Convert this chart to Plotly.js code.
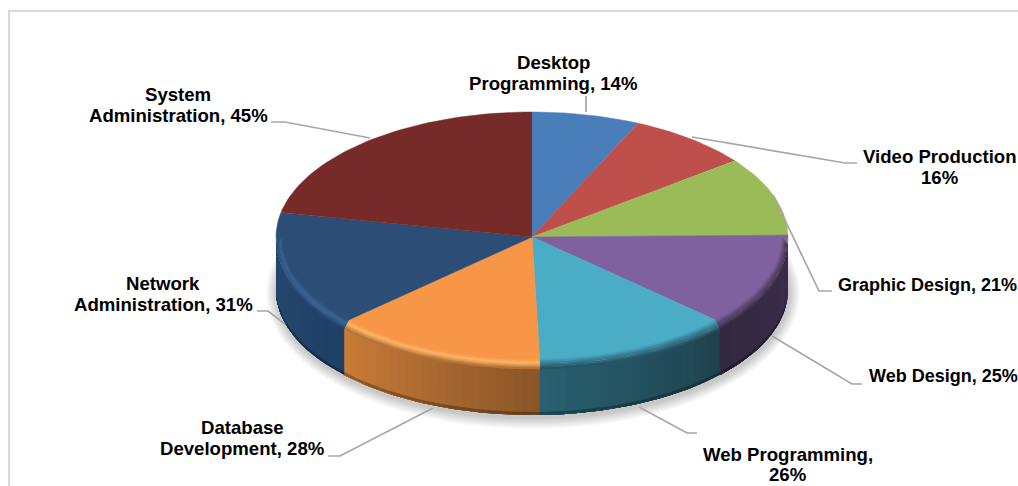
<!DOCTYPE html>
<html>
<head>
<meta charset="utf-8">
<script src="https://cdn.plot.ly/plotly-3.0.1.min.js"></script>
<style>html,body{margin:0;padding:0;background:#fff;overflow:hidden}</style>
</head>
<body>
<div id="chart" style="width:1018px;height:486px"></div>
<script>
// Skills reported by respondents, in clockwise order from twelve o'clock
const categories = ['Desktop Programming', 'Video Production', 'Graphic Design', 'Web Design',
                    'Web Programming', 'Database Development', 'Network Administration', 'System Administration'];
const percentages = [14, 16, 21, 25, 26, 28, 31, 45];
const topColors = ['#4A7EBB', '#BE4F4B', '#9BBB59', '#8061A0', '#4BACC6', '#F79646', '#2C4D75', '#772B29'];

// Wall shading per slice: colour at the clockwise start and end of the visible wall, and rim highlight
const wallStart = [null, null, null, '#3A2D4C', '#1E424E', '#8A5528', '#1F3F66', null];
const wallEnd   = [null, null, null, '#33283F', '#296070', '#C97C38', '#26486F', null];
const rimColors = [null, null, null, '#5A4670', '#377F94', '#FFB566', '#3A6496', null];

// Disc geometry in the page's pixel space
const cx = 532, cy = 237, rx = 256, ry = 125, wallDepth = 53, rimDepth = 7, rimInset = 0.025;

function point(deg, scale, depth) {
  const a = deg * Math.PI / 180;
  return [cx + rx * scale * Math.sin(a), cy - ry * scale * Math.cos(a) + depth];
}
function arc(from, to, scale, depth) {
  const n = Math.max(2, Math.ceil(Math.abs(to - from) / 1.5));
  const pts = [];
  for (let i = 0; i <= n; i++) pts.push(point(from + (to - from) * i / n, scale, depth));
  return pts;
}
function hexRgb(h) { return [1, 3, 5].map(i => parseInt(h.substr(i, 2), 16)); }
function mix(a, b, t) {
  const p = hexRgb(a), q = hexRgb(b);
  return 'rgb(' + p.map((v, i) => Math.round(v + (q[i] - v) * t)).join(',') + ')';
}
function toHex(c) {
  return '#' + c.match(/\d+/g).map(v => (+v).toString(16).padStart(2, '0')).join('');
}
function polygon(pts, color, extra) {
  return Object.assign({
    type: 'scatter', mode: 'lines', x: pts.map(p => p[0]), y: pts.map(p => p[1]),
    fill: 'toself', fillcolor: color, line: {color: color, width: 0},
    hoverinfo: 'skip', showlegend: false
  }, extra || {});
}

const total = percentages.reduce((s, v) => s + v, 0);
const bounds = [0];
percentages.forEach(v => bounds.push(bounds[bounds.length - 1] + v / total * 360));

const traces = [];

// Soft drop shadow under the disc
for (let k = 11; k >= 1; k--) {
  const pts = [];
  for (let d = 0; d <= 360; d += 3) {
    const a = d * Math.PI / 180;
    pts.push([cx + (rx + k) * Math.sin(a) + 1, cy + wallDepth + 3 - (ry + k) * Math.cos(a)]);
  }
  traces.push({type: 'scatter', mode: 'none', x: pts.map(p => p[0]), y: pts.map(p => p[1]),
    fill: 'toself', fillcolor: 'rgba(0,0,0,0.018)', hoverinfo: 'skip', showlegend: false});
}

// Outer wall of the front half; each strip runs on to the slice's far end and the next one
// paints over it, so the shading steps along the arc with no gaps between strips
percentages.forEach((v, i) => {
  if (!wallStart[i]) return;
  const from = Math.max(bounds[i], 90), to = Math.min(bounds[i + 1], 270);
  const steps = Math.ceil((to - from) / 2);
  for (let s = 0; s < steps; s++) {
    const a0 = from + (to - from) * s / steps;
    const top = arc(a0, to, 1, rimDepth - 2), bottom = arc(to, a0, 1, wallDepth);
    traces.push(polygon(top.concat(bottom), mix(wallStart[i], wallEnd[i], (s + 0.5) / steps)));
  }
});

// Darker lip along the bottom edge of the wall
traces.push(polygon(arc(90, 270, 1, wallDepth - 3).concat(arc(270, 90, 1, wallDepth)), 'rgba(0,0,0,0.28)'));

// Top faces, one wedge per category
percentages.forEach((v, i) => {
  const pts = [[cx, cy]].concat(arc(bounds[i], bounds[i + 1], 1, 0));
  traces.push(polygon(pts, topColors[i], {
    hoverinfo: 'text', text: categories[i] + ', ' + v + '%', hoveron: 'fills',
    line: {color: topColors[i], width: 0.5}
  }));
});

// Rounded rim between top face and wall; each band paints over the one before it
const rimBands = 7;
percentages.forEach((v, i) => {
  if (!rimColors[i]) return;
  const from = Math.max(bounds[i], 90), to = Math.min(bounds[i + 1], 270);
  const wallMid = toHex(mix(wallStart[i], wallEnd[i], 0.5));
  for (let b = 0; b < rimBands; b++) {
    const u0 = b / rimBands, u1 = (b + 1) / rimBands, u = (u0 + u1) / 2;
    const color = u < 0.4 ? mix(topColors[i], rimColors[i], u / 0.4)
                          : mix(rimColors[i], wallMid, (u - 0.4) / 0.6);
    const outer = arc(from, to, 1 - rimInset + rimInset * u1, rimDepth * u1 + 0.4);
    const inner = arc(to, from, 1 - rimInset + rimInset * u0, rimDepth * u0);
    traces.push(polygon(outer.concat(inner), color));
  }
});

// Leader lines, from the disc out to each label
const leaderX = [[271, 285, 370], [586, 586], [692, 845, 857], [773, 819, 832],
                 [772, 852, 862], [639, 687, 697], [433, 340, 328], [285, 268, 257]];
const leaderY = [[122, 122, 138], [96, 112], [137, 163, 163], [195, 291, 291],
                 [336, 384, 384], [407, 433, 433], [408, 456, 456], [324, 311, 311]];
leaderX.forEach((xs, i) => traces.push({
  type: 'scatter', mode: 'lines', x: xs, y: leaderY[i],
  line: {color: '#A6A6A6', width: 1.7}, hoverinfo: 'skip', showlegend: false
}));

// Data labels, one annotation per text line so the line spacing can be set exactly
const labelLines = [['Desktop', 'Programming, ' + percentages[0] + '%'],
  ['Video Production', percentages[1] + '%'],
  ['Graphic Design, ' + percentages[2] + '%'],
  ['Web Design, ' + percentages[3] + '%'],
  ['Web Programming,', percentages[4] + '%'],
  ['Database', 'Development, ' + percentages[5] + '%'],
  ['Network', 'Administration, ' + percentages[6] + '%'],
  ['System', 'Administration, ' + percentages[7] + '%']];
const labelX = [553, 940, 837, 868, 788, 242, 163, 178];
const labelY = [62, 156, 285, 376, 454, 427, 283, 94];
const labelGap = [21.5, 21.5, 0, 0, 20.5, 21.5, 21.5, 21.5];
const labelSize = [18.6, 18.6, 18, 18, 18.6, 18.6, 18.6, 18.6];
const labelAnchor = ['center', 'center', 'left', 'left', 'center', 'center', 'center', 'center'];
const annotations = [];
labelLines.forEach((lines, i) => lines.forEach((t, j) => annotations.push({
  xref: 'x', yref: 'y', x: labelX[i], y: labelY[i] + j * labelGap[i], text: '<b>' + t + '</b>',
  showarrow: false, xanchor: labelAnchor[i], yanchor: 'middle', align: 'center',
  font: {family: '"Liberation Sans", Arial, sans-serif', size: labelSize[i], color: '#000'},
  borderpad: 0
})));

const hiddenAxis = {visible: false, fixedrange: true, showgrid: false, zeroline: false};
const layout = {
  width: 1018, height: 486, margin: {l: 0, r: 0, t: 0, b: 0},
  paper_bgcolor: '#fff', plot_bgcolor: '#fff', showlegend: false,
  xaxis: Object.assign({range: [0, 1018]}, hiddenAxis),
  yaxis: Object.assign({range: [486, 0]}, hiddenAxis),
  annotations: annotations,
  shapes: [
    {type: 'line', xref: 'paper', yref: 'paper', x0: 9 / 1018, x1: 9 / 1018, y0: 0, y1: 1 - 11 / 486,
     line: {color: '#D9D9D9', width: 2}},
    {type: 'line', xref: 'paper', yref: 'paper', x0: 8 / 1018, x1: 1, y0: 1 - 11 / 486, y1: 1 - 11 / 486,
     line: {color: '#D9D9D9', width: 2}}
  ]
};
Plotly.newPlot('chart', traces, layout, {displayModeBar: false, responsive: false});
</script>
</body>
</html>
